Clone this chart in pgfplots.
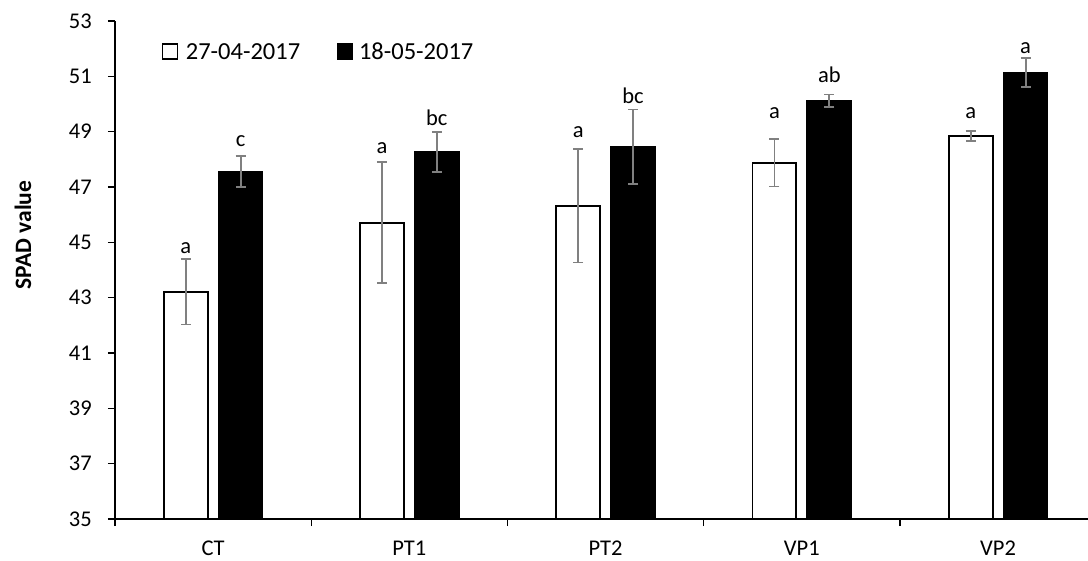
\documentclass[border=0pt]{standalone}
\usepackage{fontspec}
\setmainfont{Carlito}
\usepackage{pgfplots}
\usepackage{pgfplotstable}
\pgfplotsset{compat=1.18}

% SPAD readings per treatment: means, standard errors, letter positions and letters
\pgfplotstableread{
x  w      we    b      be    wl     bl     wt  bt
0  43.21  1.18  47.55  0.56  44.61  48.48  a   c
1  45.71  2.19  48.27  0.73  48.21  49.24  a   bc
2  46.32  2.05  48.45  1.35  48.79  50.00  a   bc
3  47.88  0.86  50.12  0.22  49.46  50.77  a   ab
4  48.84  0.18  51.14  0.52  49.48  51.83  a   a
}\spad

\newcommand\chartfont{\fontsize{22.5}{27}\selectfont}

\begin{document}
\begin{tikzpicture}
\begin{axis}[
  scale only axis, width=973pt, height=498pt,
  xmin=-0.5, xmax=4.458, ymin=35, ymax=53,
  axis lines=left, axis line style={-, line width=1.3pt, black},
  ytick={35,37,...,53},
  xtick={0,...,4}, xticklabels={CT,PT1,PT2,VP1,VP2},
  minor xtick={-0.5,0.5,...,3.5},
  major x tick style={draw=none},
  tick align=outside, major tick length=7pt, minor tick length=7pt,
  every tick/.style={black, line width=1.3pt},
  /pgf/number format/assume math mode=true,
  tick label style={font=\chartfont, inner sep=0pt},
  yticklabel style={anchor=east, xshift=-16pt},
  xticklabel style={anchor=north, yshift=-14.5pt},
  ylabel={\textbf{SPAD value}},
  % rotated label: the local y direction points left
  ylabel style={at={(rel axis cs:0,0.570)}, anchor=center, yshift=92pt, font=\fontsize{23.5}{28}\selectfont},
  legend columns=2,
  legend style={draw=none, fill=none, inner sep=0pt, outer sep=0pt,
    at={(rel axis cs:0.0483,0.939)}, anchor=west, font=\fontsize{24.5}{29}\selectfont,
    /tikz/every even column/.append style={column sep=37pt},
    nodes={inner sep=0pt, text depth=0pt}},
  error bars/error bar style={line width=1.8pt, color=gray},
  error bars/error mark options={rotate=90, mark size=5pt, line width=1.8pt, color=gray},
]
% 27-04-2017
\addplot[ybar, bar width=0.224, bar shift=0pt, draw=black, fill=white, line width=1.8pt, forget plot,
  error bars/.cd, y dir=both, y explicit]
  table[x expr=\thisrow{x}-0.14, y=w, y error=we]{\spad};
% 18-05-2017
\addplot[ybar, bar width=0.224, bar shift=0pt, draw=black, fill=black, line width=1.8pt, forget plot,
  error bars/.cd, y dir=both, y explicit]
  table[x expr=\thisrow{x}+0.14, y=b, y error=be]{\spad};
% significance letters
\addplot[draw=none, mark=none, forget plot, nodes near coords, point meta=explicit symbolic,
  nodes near coords style={anchor=base, inner sep=0pt, font=\chartfont}]
  table[x expr=\thisrow{x}-0.14, y=wl, meta=wt]{\spad};
\addplot[draw=none, mark=none, forget plot, nodes near coords, point meta=explicit symbolic,
  nodes near coords style={anchor=base, inner sep=0pt, font=\chartfont}]
  table[x expr=\thisrow{x}+0.14, y=bl, meta=bt]{\spad};

\addlegendimage{legend image code/.code={\draw[black, line width=1.3pt, fill=white] (0pt,-7.5pt) rectangle (15pt,7.5pt); \path (23pt,0pt);}}
\addlegendentry{27-04-2017}
\addlegendimage{legend image code/.code={\draw[black, line width=1.3pt, fill=black] (0pt,-7.5pt) rectangle (15pt,7.5pt); \path (21pt,0pt);}}
\addlegendentry{18-05-2017}

\coordinate (lo) at (rel axis cs:0,0);
\coordinate (hi) at (rel axis cs:1,1);
\end{axis}
\pgfresetboundingbox
\path[use as bounding box] ([xshift=-115pt,yshift=-41pt]lo) rectangle ([yshift=21pt]hi);
\end{tikzpicture}
\end{document}
